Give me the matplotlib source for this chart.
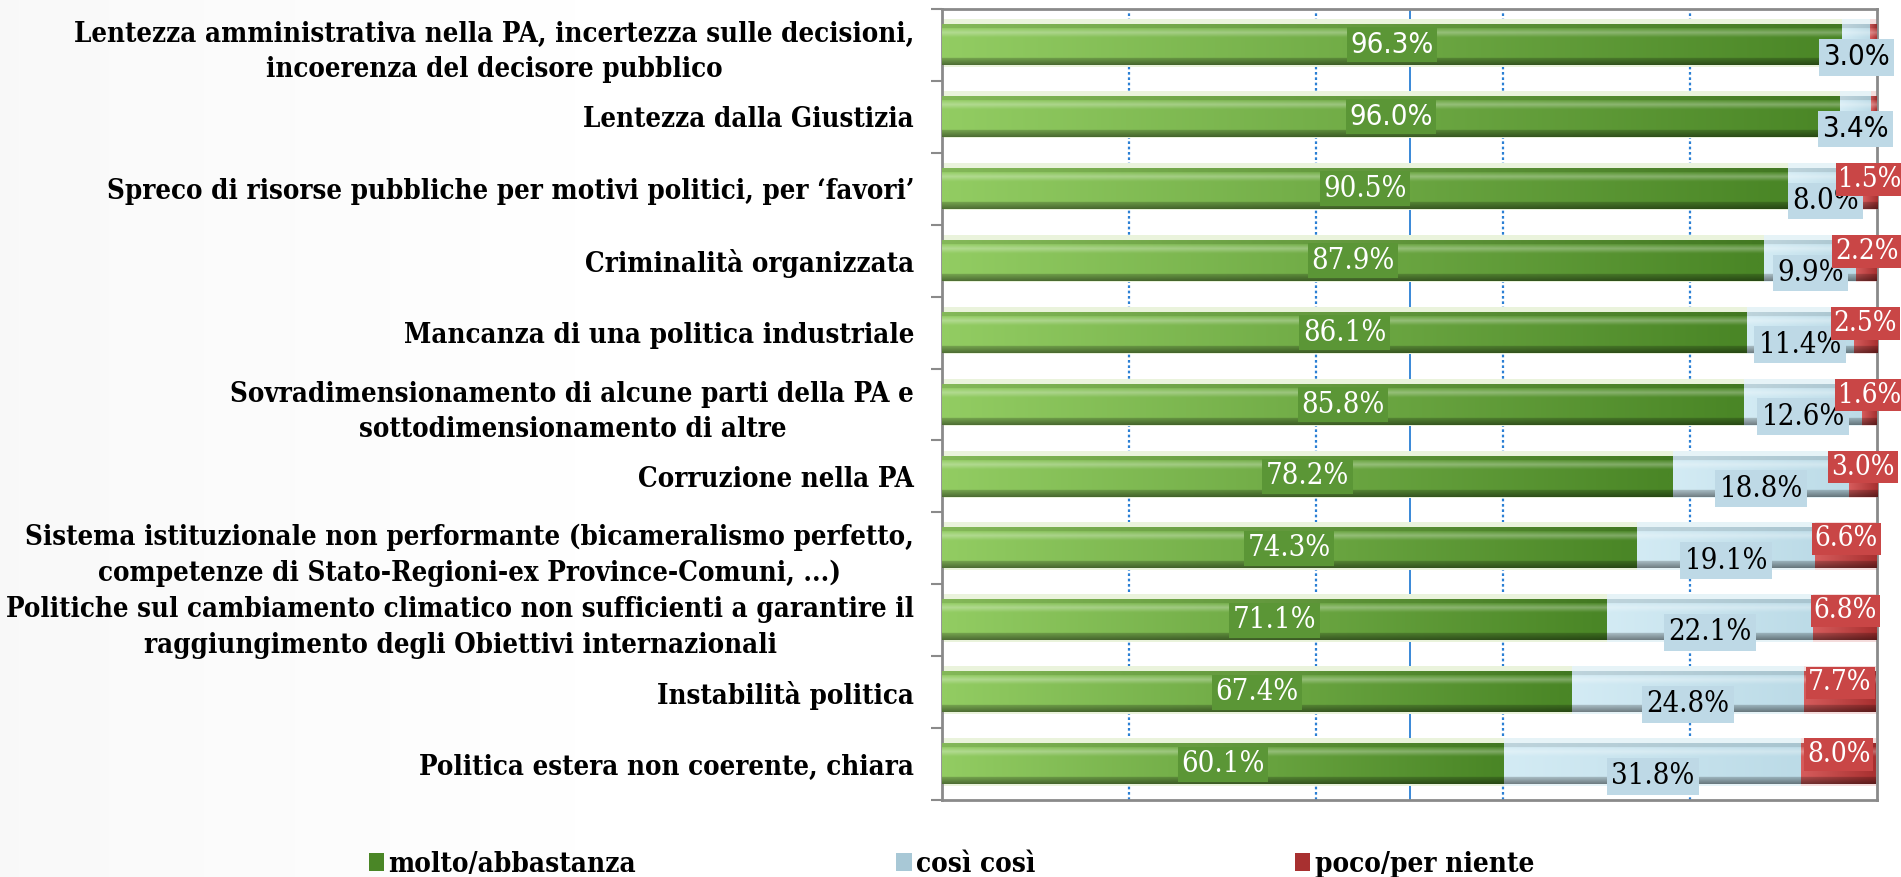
import numpy as np
import matplotlib
matplotlib.use("Agg")
import matplotlib.pyplot as plt
from matplotlib.colors import to_rgb
from matplotlib.patches import Patch

categories = [
    "Lentezza amministrativa nella PA, incertezza sulle decisioni,\nincoerenza del decisore pubblico",
    "Lentezza dalla Giustizia",
    "Spreco di risorse pubbliche per motivi politici, per \u2018favori\u2019",
    "Criminalit\u00e0 organizzata",
    "Mancanza di una politica industriale",
    "Sovradimensionamento di alcune parti della PA e\nsottodimensionamento di altre",
    "Corruzione nella PA",
    "Sistema istituzionale non performante (bicameralismo perfetto,\ncompetenze di Stato-Regioni-ex Province-Comuni, ...)",
    "Politiche sul cambiamento climatico non sufficienti a garantire il\nraggiungimento degli Obiettivi internazionali",
    "Instabilit\u00e0 politica",
    "Politica estera non coerente, chiara",
]
molto = [96.3, 96.0, 90.5, 87.9, 86.1, 85.8, 78.2, 74.3, 71.1, 67.4, 60.1]
cosi = [3.0, 3.4, 8.0, 9.9, 11.4, 12.6, 18.8, 19.1, 22.1, 24.8, 31.8]
poco = [0.7, 0.6, 1.5, 2.2, 2.5, 1.6, 3.0, 6.6, 6.8, 7.7, 8.0]
series_names = ["molto/abbastanza", "cos\u00ec cos\u00ec", "poco/per niente"]

SERIF = "DejaVu Serif"

# colour stops (left, right) for each series
green = ("#92cc62", "#4a8626")
blue = ("#d3ebf4", "#bcdbe7")
red = ("#d65c5c", "#a83030")


def mix(c, target, a):
    return c + (target - c) * a


def bar_image(c_left, c_right, ny=40, nx=60):
    cl, cr = np.array(to_rgb(c_left)), np.array(to_rgb(c_right))
    img = np.zeros((ny, nx, 3))
    for j in range(nx):
        base = mix(cl, cr, j / (nx - 1))
        for i in range(ny):
            t = i / (ny - 1)
            if t < 0.08:
                col = mix(base, np.zeros(3), 0.1)
            elif t < 0.32:
                k = 1 - abs(t - 0.2) / 0.12
                col = mix(base, np.ones(3), 0.3 * k)
            elif t > 0.84:
                col = mix(base, np.zeros(3), 0.2 + 0.25 * (t - 0.84) / 0.16)
            else:
                col = base
            img[i, j] = col
    return img


fig = plt.figure(figsize=(19.01, 8.77), dpi=100)

# faint background gradient
bg = fig.add_axes([0, 0, 1, 1], zorder=-5)
gx = np.linspace(0, 1, 400)
shade = np.clip(0.972 + (gx / 0.35) * 0.028, 0, 1)
bg.imshow(np.tile(shade, (10, 1)), cmap="gray", vmin=0, vmax=1, aspect="auto",
          extent=(0, 1, 0, 1))
bg.axis("off")

ax = fig.add_axes([942 / 1901, 1 - 800 / 877, (1877 - 942) / 1901, (800 - 9) / 877])
ax.patch.set_alpha(0)

n = len(categories)
y = np.arange(n)[::-1]
h = 0.56

ax.set_xlim(0, 100)
ax.set_ylim(-0.5, n - 0.5)

# gridlines
for gxv in [20, 40, 60, 80]:
    ax.axvline(gxv, color="#2a7fd4", lw=1.6, ls=(0, (1.2, 1.2)), zorder=1)
ax.axvline(50, color="#2a7fd4", lw=1.3, zorder=1)

imgs = [bar_image(*green), bar_image(*blue), bar_image(*red)]
halo = ["#eaf3dc", "#e6f3f7", "#f4dcdc"]

for k in range(n):
    lefts = [0, molto[k], molto[k] + cosi[k]]
    widths = [molto[k], cosi[k], poco[k]]
    for s in range(3):
        x0, w = lefts[s], widths[s]
        ax.barh(y[k] + 0.03, w, left=x0, height=h + 0.1, color=halo[s], zorder=2, lw=0)
        ax.imshow(imgs[s], extent=(x0, x0 + w, y[k] - h / 2, y[k] + h / 2),
                  aspect="auto", origin="upper", zorder=3, interpolation="bilinear")
    ax.set_xlim(0, 100)
    ax.set_ylim(-0.5, n - 0.5)

    fam = ["Liberation Sans Narrow", "DejaVu Sans"] if k < 2 else SERIF
    ax.text(molto[k] / 2, y[k], f"{molto[k]:.1f}%", ha="center", va="center",
            fontsize=21, color="white", family=fam, fontstretch="condensed", zorder=5,
            bbox=dict(boxstyle="square,pad=0.12", fc="#5b9636", ec="none"))
    ax.text(molto[k] + cosi[k] / 2, y[k] - 0.17, f"{cosi[k]:.1f}%", ha="center",
            va="center", fontsize=21, color="black", family=fam, fontstretch="condensed",
            zorder=5, bbox=dict(boxstyle="square,pad=0.15", fc="#bed9e6", ec="none"))
    if poco[k] >= 1:
        ax.text(molto[k] + cosi[k] + poco[k] / 2, y[k] + 0.13, f"{poco[k]:.1f}%",
                ha="center", va="center", fontsize=20, color="white", family=SERIF,
                fontstretch="condensed", zorder=6,
                bbox=dict(boxstyle="square,pad=0.1", fc="#c94646", ec="none"))

ax.set_xticks([])
ax.set_yticks(y)
ax.set_yticklabels(categories, fontsize=19.8, fontweight="bold", family=SERIF,
                   fontstretch="condensed", linespacing=1.4)
for lbl in ax.get_yticklabels():
    lbl.set_multialignment("center")
ax.tick_params(axis="y", which="major", length=0, pad=20)
ax.set_yticks(np.arange(n + 1) - 0.5, minor=True)
ax.tick_params(axis="y", which="minor", length=8, width=1.5, color="#8a8a8a")

for sp in ax.spines.values():
    sp.set_color("#8a8a8a")
    sp.set_linewidth(2)

handles = [Patch(facecolor=c[1], edgecolor="none") for c in (green, ("#c0dce8", "#a8c8d6"), red)]
fig.legend(handles, series_names, loc="center", ncol=3, mode="expand",
           bbox_to_anchor=(358 / 1901, 1 - 882 / 877, (1545 - 358) / 1901, 0.04),
           frameon=False, prop=dict(family=SERIF, weight="bold", size=20, stretch="condensed"),
           handlelength=0.55, handleheight=0.6, handletextpad=0.15, borderaxespad=0)

fig.savefig("out.png", dpi=100)
